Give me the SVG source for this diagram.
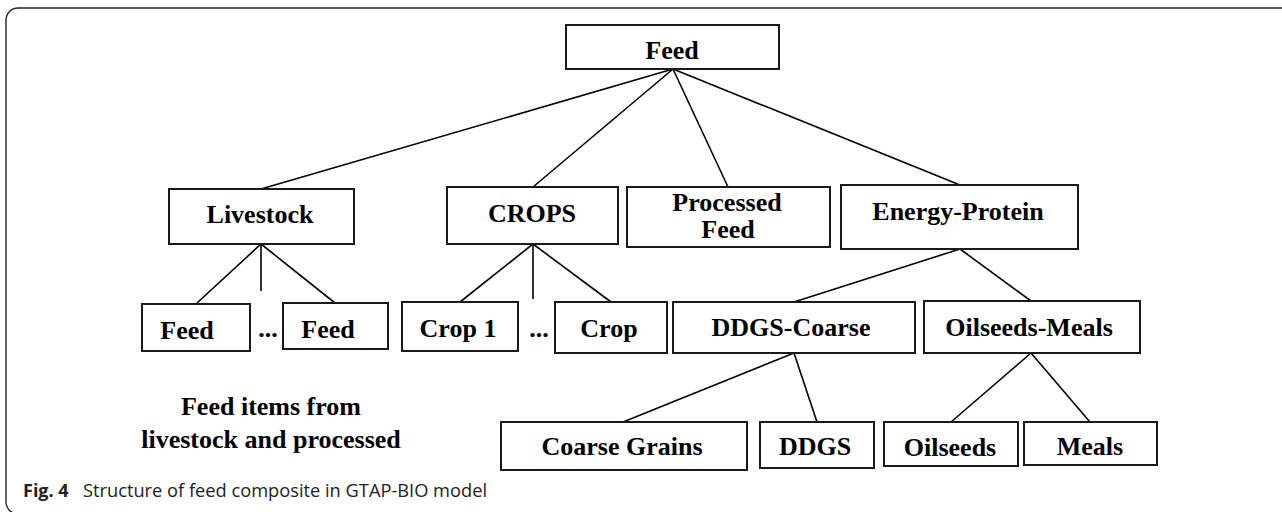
<svg xmlns="http://www.w3.org/2000/svg" width="1282" height="512" viewBox="0 0 1282 512">
<style>
.box{fill:#fff;stroke:#1a1a1a;stroke-width:2}
.lbl{font-family:"Liberation Serif","Times New Roman",serif;font-weight:bold;font-size:26px;fill:#000;text-anchor:middle}
.con line{stroke:#000;stroke-width:1.6}
.frame{fill:none;stroke:#222;stroke-width:1.4}
.cap{font-family:"Open Sans","Noto Sans",sans-serif;font-size:18px;fill:#222}
</style>
<rect class="frame" x="6" y="8" width="1290" height="506" rx="12"/>
<g id="connectors" class="con">
<line x1="673" y1="69" x2="261" y2="189"/>
<line x1="673" y1="69" x2="533" y2="187"/>
<line x1="673" y1="69" x2="728" y2="187"/>
<line x1="673" y1="69" x2="960" y2="185"/>
<line x1="261" y1="244" x2="197" y2="303"/>
<line x1="261" y1="244" x2="261" y2="291"/>
<line x1="261" y1="244" x2="335" y2="303"/>
<line x1="533" y1="244" x2="460" y2="302"/>
<line x1="533" y1="244" x2="533" y2="299"/>
<line x1="533" y1="244" x2="611" y2="302"/>
<line x1="960" y1="249" x2="794" y2="302"/>
<line x1="960" y1="249" x2="1031" y2="301"/>
<line x1="794" y1="353" x2="623" y2="422"/>
<line x1="794" y1="353" x2="817" y2="422"/>
<line x1="1031" y1="353" x2="951" y2="422"/>
<line x1="1031" y1="353" x2="1090" y2="422"/>
</g>
<g id="feed"><rect class="box" x="566" y="25" width="213" height="44"/><text class="lbl" x="672" y="59">Feed</text></g>
<g id="livestock"><rect class="box" x="169" y="189" width="185" height="55"/><text class="lbl" x="260" y="223">Livestock</text></g>
<g id="crops"><rect class="box" x="447" y="187" width="171" height="57"/><text class="lbl" x="532" y="222">CROPS</text></g>
<g id="processed-feed"><rect class="box" x="627" y="187" width="203" height="60"/><text class="lbl" x="727" y="211">Processed</text><text class="lbl" x="728" y="238">Feed</text></g>
<g id="energy-protein"><rect class="box" x="841" y="185" width="237" height="64"/><text class="lbl" x="958" y="220">Energy-Protein</text></g>
<g id="feed-1"><rect class="box" x="142" y="304" width="108" height="47"/><text class="lbl" x="187" y="339">Feed</text></g>
<g id="dots-1"><text class="lbl" x="268" y="337">...</text></g>
<g id="feed-n"><rect class="box" x="283" y="303" width="105" height="46"/><text class="lbl" x="328" y="338">Feed</text></g>
<g id="crop-1"><rect class="box" x="402" y="302" width="116" height="49"/><text class="lbl" x="458" y="337">Crop 1</text></g>
<g id="dots-2"><text class="lbl" x="539" y="337">...</text></g>
<g id="crop-n"><rect class="box" x="555" y="302" width="112" height="51"/><text class="lbl" x="609" y="337">Crop</text></g>
<g id="ddgs-coarse"><rect class="box" x="673" y="302" width="242" height="51"/><text class="lbl" x="791" y="336">DDGS-Coarse</text></g>
<g id="oilseeds-meals"><rect class="box" x="924" y="301" width="216" height="52"/><text class="lbl" x="1029" y="336">Oilseeds-Meals</text></g>
<g id="coarse-grains"><rect class="box" x="501" y="422" width="246" height="48"/><text class="lbl" x="622" y="455">Coarse Grains</text></g>
<g id="ddgs"><rect class="box" x="760" y="422" width="114" height="46"/><text class="lbl" x="815" y="455">DDGS</text></g>
<g id="oilseeds"><rect class="box" x="884" y="422" width="134" height="44"/><text class="lbl" x="950" y="456">Oilseeds</text></g>
<g id="meals"><rect class="box" x="1024" y="422" width="133" height="43"/><text class="lbl" x="1090" y="455">Meals</text></g>
<g id="note"><text class="lbl" x="271" y="415">Feed items from</text><text class="lbl" x="271" y="448">livestock and processed</text></g>
<g id="caption"><text class="cap" x="23" y="497"><tspan font-weight="bold">Fig. 4</tspan><tspan x="83" textLength="404" lengthAdjust="spacingAndGlyphs">Structure of feed composite in GTAP-BIO model</tspan></text></g>
</svg>
